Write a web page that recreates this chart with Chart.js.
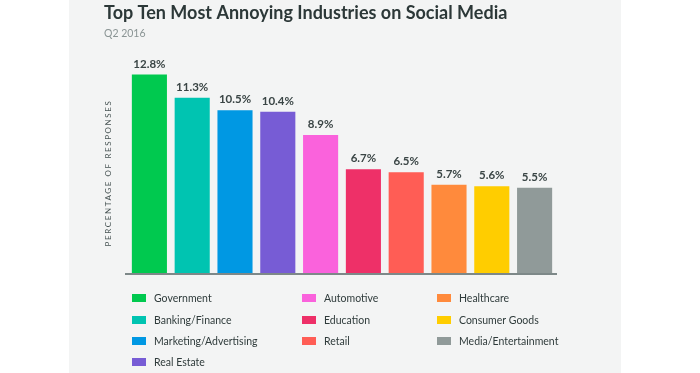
<!DOCTYPE html>
<html>
<head>
<meta charset="utf-8">
<script src="https://cdn.jsdelivr.net/npm/chart.js@4.4.1/dist/chart.umd.min.js"></script>
<style>
  html, body { margin: 0; padding: 0; background: #ffffff; }
  #panel { position: absolute; left: 69px; top: 0; width: 552px; height: 373px; background: #f3f4f4; }
  canvas { display: block; }
</style>
</head>
<body>
<div id="panel"><canvas id="industryChart" width="552" height="373"></canvas></div>
<script>
const chartTitle = "Top Ten Most Annoying Industries on Social Media"
const chartSubtitle = "Q2 2016"
const axisLabel = "PERCENTAGE OF RESPONSES"
const industries = ["Government", "Banking/Finance", "Marketing/Advertising", "Real Estate", "Automotive",
    "Education", "Retail", "Healthcare", "Consumer Goods", "Media/Entertainment"]
const shares = [12.8, 11.3, 10.5, 10.4, 8.9, 6.7, 6.5, 5.7, 5.6, 5.5]
const barColors = ["#00c94f", "#00c4b1", "#0098e3", "#775cd5", "#fa62dc", "#ee3068", "#ff5d55", "#ff8a3c", "#ffcd00", "#909a99"]
const legendColumns = [[0, 1, 2, 3], [4, 5, 6], [7, 8, 9]]

const fontFamily = "Lato, 'Open Sans', sans-serif"
const darkText = "#2f3b3b"

// title + subtitle, left aligned with the axis title
const headings = {
    id: 'headings',
    afterDraw(chart) {
        const ctx = chart.ctx
        ctx.save()
        ctx.textBaseline = "alphabetic"
        ctx.fillStyle = "#2c3838"
        ctx.font = "bold 18px " + fontFamily
        ctx.fillText(chartTitle, 35, 19)
        ctx.fillStyle = "#8a9494"
        ctx.font = "10.5px " + fontFamily
        ctx.fillText(chartSubtitle, 35, 37)
        ctx.restore()
    }
}

// value labels above each bar
const valueLabels = {
    id: 'valueLabels',
    afterDatasetsDraw(chart) {
        const ctx = chart.ctx
        const meta = chart.getDatasetMeta(0)
        ctx.save()
        ctx.font = "bold 11.5px " + fontFamily
        ctx.fillStyle = "#3a4545"
        ctx.textAlign = "center"
        ctx.textBaseline = "alphabetic"
        meta.data.forEach((bar, i) => {
            ctx.fillText(shares[i].toFixed(1) + "%", bar.x, bar.y - 7)
        })
        ctx.restore()
    }
}

// three column legend, filled top to bottom
const columnLegend = {
    id: 'columnLegend',
    afterDraw(chart) {
        const ctx = chart.ctx
        const colX = [63, 233, 368]
        const rowY = [298, 320, 341, 362]
        ctx.save()
        ctx.font = "10.5px " + fontFamily
        ctx.textBaseline = "middle"
        legendColumns.forEach((col, c) => {
            col.forEach((idx, r) => {
                ctx.fillStyle = barColors[idx]
                ctx.fillRect(colX[c], rowY[r] - 4, 14, 8)
                ctx.fillStyle = darkText
                ctx.fillText(industries[idx], colX[c] + 22, rowY[r] + 1)
            })
        })
        ctx.restore()
    }
}

// axis title with letter spacing, and the base line
const axisTitle = {
    id: 'axisTitle',
    afterDraw(chart) {
        const ctx = chart.ctx
        ctx.save()
        ctx.translate(39, 173)
        ctx.rotate(-Math.PI / 2)
        ctx.font = "8px " + fontFamily
        ctx.letterSpacing = "1.6px"
        ctx.fillStyle = "#485454"
        ctx.textAlign = "center"
        ctx.textBaseline = "middle"
        ctx.fillText(axisLabel, 0, 0)
        ctx.restore()
        ctx.save()
        ctx.strokeStyle = "#7d8888"
        ctx.lineWidth = 2
        ctx.beginPath()
        ctx.moveTo(56, chart.chartArea.bottom + 1)
        ctx.lineTo(chart.chartArea.right + 1, chart.chartArea.bottom + 1)
        ctx.stroke()
        ctx.restore()
    }
}

const ctx = document.getElementById("industryChart")
const myChart = new Chart(ctx, {
    type: 'bar',
    data: {
        labels: industries,
        datasets: [{
            data: shares,
            backgroundColor: barColors,
            borderWidth: 0,
            barPercentage: 0.82,
            categoryPercentage: 1.0,
        }]
    },
    options: {
        responsive: false,
        animation: false,
        layout: {
            padding: { left: 59, right: 65, top: 56, bottom: 100 }
        },
        scales: {
            x: { display: false },
            y: { display: false, min: 0, max: 14 }
        },
        plugins: {
            legend: { display: false },
            tooltip: { enabled: false },
            title: { display: false },
        }
    },
    plugins: [headings, valueLabels, columnLegend, axisTitle]
})
</script>
</body>
</html>
